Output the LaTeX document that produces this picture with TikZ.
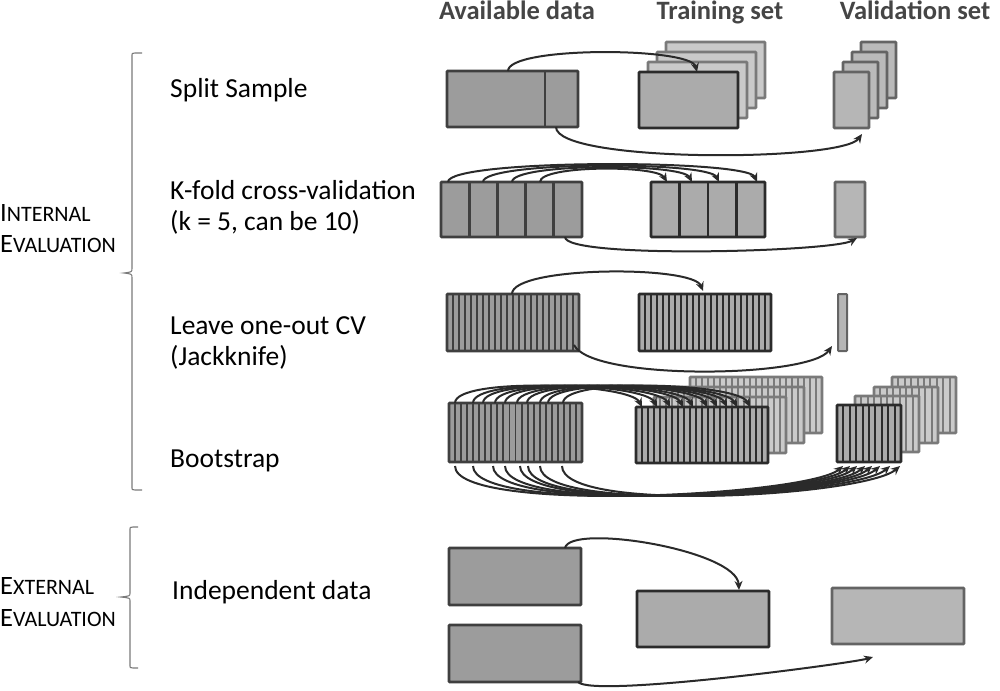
\documentclass[tikz,border=0pt]{standalone}
\usepackage{fontspec}
\setmainfont{Carlito}
\usetikzlibrary{calc,arrows.meta}
\definecolor{availF}{HTML}{9C9C9C}
\definecolor{availD}{HTML}{3F3F3F}
\definecolor{trainF}{HTML}{ABABAB}
\definecolor{trainD}{HTML}{2B2B2B}
\definecolor{valF}{HTML}{B6B6B6}
\definecolor{valD}{HTML}{646464}
\definecolor{backF}{HTML}{CACACA}
\definecolor{backD}{HTML}{7A7A7A}
\definecolor{arrowC}{HTML}{2A2A2A}
\definecolor{headC}{HTML}{454545}
\definecolor{bracketC}{HTML}{7A7A7A}
\newcommand{\stripeit}[3]{%
  \pgfmathtruncatemacro{\nmone}{#2-1}%
  \foreach \i in {1,...,\nmone}{\draw[#3] ($(#1.north west)!\i/#2!(#1.north east)$) -- ($(#1.south west)!\i/#2!(#1.south east)$);}%
}
\newcommand{\fakesc}[2]{{\fontsize{26.5}{30}\selectfont #1}{\fontsize{22}{30}\selectfont #2}}
\tikzset{
  box/.style={rectangle, inner sep=0pt, outer sep=0pt, anchor=north west, line width=2.8pt, rounded corners=0.8pt},
  availbox/.style={box, draw=availD, fill=availF},
  trainbox/.style={box, draw=trainD, fill=trainF},
  valbox/.style={box, draw=valD, fill=valF},
  backbox/.style={box, draw=backD, fill=backF},
  availsep/.style={draw=availD, line width=2.8pt},
  trainsep/.style={draw=trainD, line width=2.8pt},
  availstripe/.style={draw=availD, line width=1.9pt},
  trainstripe/.style={draw=trainD, line width=1.9pt},
  backstripe/.style={draw=backD, line width=1.9pt},
  flow/.style={draw=arrowC, line width=2pt, -{Stealth[length=9pt,width=8pt]}},
  bracket/.style={draw=bracketC, line width=1.1pt},
  head/.style={anchor=base, inner sep=0pt, text=headC, font=\fontsize{26.5}{30}\selectfont\bfseries},
  lab/.style={anchor=base west, inner sep=0pt, font=\fontsize{27.5}{31}\selectfont},
  side/.style={anchor=base west, inner sep=0pt},
}
\begin{document}
\begin{tikzpicture}[x=1pt,y=-1pt]
\useasboundingbox (0,0) rectangle (1000,690);

% headers
\node[head] (h1) at (517,20) {Available data};
\node[head] (h2) at (720,20) {Training set};
\node[head] (h3) at (915,20) {Validation set};

% side labels
\node[side] (int1) at (0,221) {\fakesc{I}{NTERNAL}};
\node[side] (int2) at (0,252) {\fakesc{E}{VALUATION}};
\node[side] (ext1) at (0,594) {\fakesc{E}{XTERNAL}};
\node[side] (ext2) at (0,626) {\fakesc{E}{VALUATION}};

% brackets
\draw[bracket] (142,53) -- (135,53) .. controls (132,53) .. (132,57) -- (132,268)
  .. controls (132,272) .. (124,273) .. controls (132,274) .. (132,278) -- (132,486)
  .. controls (132,490) .. (135,490) -- (142,490);
\draw[bracket] (138,527) -- (133,527) .. controls (130,527) .. (130,531) -- (130,593)
  .. controls (130,596) .. (121,597) .. controls (130,598) .. (130,601) -- (130,664)
  .. controls (130,668) .. (133,668) -- (138,668);

% method labels
\node[lab] (l1) at (170,98) {Split Sample};
\node[lab] (l2a) at (170,199) {K-fold cross-validation};
\node[lab] (l2b) at (170,230) {(k = 5, can be 10)};
\node[lab] (l3a) at (170,334) {Leave one-out CV};
\node[lab] (l3b) at (170,365) {(Jackknife)};
\node[lab] (l4) at (170,467) {Bootstrap};
\node[lab] (l5) at (172,599) {Independent data};

% ---------- Row 1: split sample
\node[availbox, minimum width=131pt, minimum height=56pt] (ssA) at (447,71) {};
\draw[availsep] ($(ssA.north west)+(98,0)$) -- ($(ssA.south west)+(98,0)$);
\node[backbox, minimum width=99pt, minimum height=56pt] (ssT3) at (666,42) {};
\node[backbox, minimum width=99pt, minimum height=56pt] (ssT2) at (657,52) {};
\node[backbox, minimum width=99pt, minimum height=56pt] (ssT1) at (648,62) {};
\node[trainbox, minimum width=99pt, minimum height=56pt] (ssT) at (639,72) {};
\node[backbox, draw=valD, fill=valF!80!backF, minimum width=35pt, minimum height=56pt] (ssV3) at (861,42) {};
\node[backbox, draw=valD, fill=valF!80!backF, minimum width=35pt, minimum height=56pt] (ssV2) at (852,52) {};
\node[backbox, draw=valD, fill=valF!80!backF, minimum width=35pt, minimum height=56pt] (ssV1) at (843,62) {};
\node[valbox, minimum width=35pt, minimum height=56pt] (ssV) at (834,72) {};
\draw[flow] ($(ssA.north west)+(61,0)$) .. controls +(0,-25) and +(-6,-25) .. ($(ssT.north west)+(58,0)$);
\draw[flow] ($(ssA.south west)+(109,0)$) .. controls +(0,36) and +(-20,28) .. ($(ssV.south west)+(28,6)$);

% ---------- Row 2: k-fold
\node[availbox, minimum width=141pt, minimum height=55pt] (kfA) at (441,182) {};
\stripeit{kfA}{5}{availsep}
\node[trainbox, minimum width=114pt, minimum height=55pt] (kfT) at (651,182) {};
\stripeit{kfT}{4}{trainsep}
\node[valbox, minimum width=30pt, minimum height=55pt] (kfV) at (835,182) {};
\draw[flow] ($(kfA.north west)+(7,0)$) .. controls +(0,-23) and +(-10,-23) .. ($(kfT.north west)+(106,0)$);
\draw[flow] ($(kfA.north west)+(42,0)$) .. controls +(0,-21) and +(-10,-21) .. ($(kfT.north west)+(68,0)$);
\draw[flow] ($(kfA.north west)+(71,0)$) .. controls +(0,-19) and +(-10,-19) .. ($(kfT.north west)+(41,0)$);
\draw[flow] ($(kfA.north west)+(99,0)$) .. controls +(0,-17) and +(-10,-17) .. ($(kfT.north west)+(16,0)$);
\draw[flow] ($(kfA.south west)+(124,0)$) .. controls +(0,22) and +(-25,14) .. ($(kfV.south west)+(22,1)$);

% ---------- Row 3: leave one out
\node[availbox, minimum width=132pt, minimum height=57pt] (looA) at (447,294) {};
\stripeit{looA}{22}{availstripe}
\node[trainbox, minimum width=132pt, minimum height=57pt] (looT) at (639,294) {};
\stripeit{looT}{22}{trainstripe}
\node[valbox, line width=2pt, minimum width=9pt, minimum height=57pt] (looV) at (838,294) {};
\draw[flow] ($(looA.north west)+(65,0)$) .. controls +(0,-28) and +(-10,-26) .. ($(looT.north west)+(64,-3)$);
\draw[flow] ($(looA.south west)+(127,-6)$) .. controls +(18,36) and +(-22,32) .. ($(looV.south west)+(-6,-5)$);

% ---------- Row 4: bootstrap
\node[availbox, minimum width=133pt, minimum height=59pt] (bsA) at (449,403) {};
\stripeit{bsA}{22}{availstripe}
\node[backbox, minimum width=132pt, minimum height=56pt] (bsT3) at (690,377) {};
\stripeit{bsT3}{22}{backstripe}
\node[backbox, minimum width=132pt, minimum height=56pt] (bsT2) at (672,387) {};
\stripeit{bsT2}{22}{backstripe}
\node[backbox, minimum width=132pt, minimum height=56pt] (bsT1) at (654,397) {};
\stripeit{bsT1}{22}{backstripe}
\node[trainbox, minimum width=132pt, minimum height=56pt] (bsT) at (636,407) {};
\stripeit{bsT}{22}{trainstripe}
\node[backbox, minimum width=64pt, minimum height=56pt] (bsV3) at (892,377) {};
\stripeit{bsV3}{10}{backstripe}
\node[backbox, minimum width=64pt, minimum height=56pt] (bsV2) at (874,387) {};
\stripeit{bsV2}{10}{backstripe}
\node[backbox, minimum width=64pt, minimum height=56pt] (bsV1) at (855,396) {};
\stripeit{bsV1}{10}{backstripe}
\node[trainbox, minimum width=64pt, minimum height=57pt] (bsV) at (837,405) {};
\stripeit{bsV}{10}{trainstripe}
\foreach \s/\e in {6/6, 24/21, 34/34, 46/47, 56/57, 68/71, 78/81, 91/91, 99/101, 114/114}{
  \draw[flow] ($(bsA.north west)+(\s,0)$) .. controls +(0,-26) and +(-12,-24) .. ($(bsT.north west)+(\e,0)$);
}
\foreach \s/\e in {6/6, 24/13, 44/20, 56/28, 71/35, 79/43, 91/53, 113/63}{
  \draw[flow] ($(bsA.south west)+(\s,4)$) .. controls +(0,48) and +(-35,30) .. ($(bsV.south west)+(\e,4)$);
}

% ---------- Row 5: independent data
\node[availbox, minimum width=132pt, minimum height=57pt] (idA1) at (449,548) {};
\node[availbox, minimum width=132pt, minimum height=57pt] (idA2) at (449,625) {};
\node[trainbox, minimum width=132pt, minimum height=56pt] (idT) at (637,591) {};
\node[valbox, minimum width=132pt, minimum height=56pt] (idV) at (832,588) {};
\draw[flow] ($(idA1.north west)+(116,0)$) .. controls +(5,-25) and +(-2,-40) .. ($(idT.north west)+(102,-1)$);
\draw[flow] ($(idA2.south east)+(-3,0)$) .. controls +(15,16) and +(-20,6) .. ($(idV.south west)+(41,13)$);
\end{tikzpicture}
\end{document}
